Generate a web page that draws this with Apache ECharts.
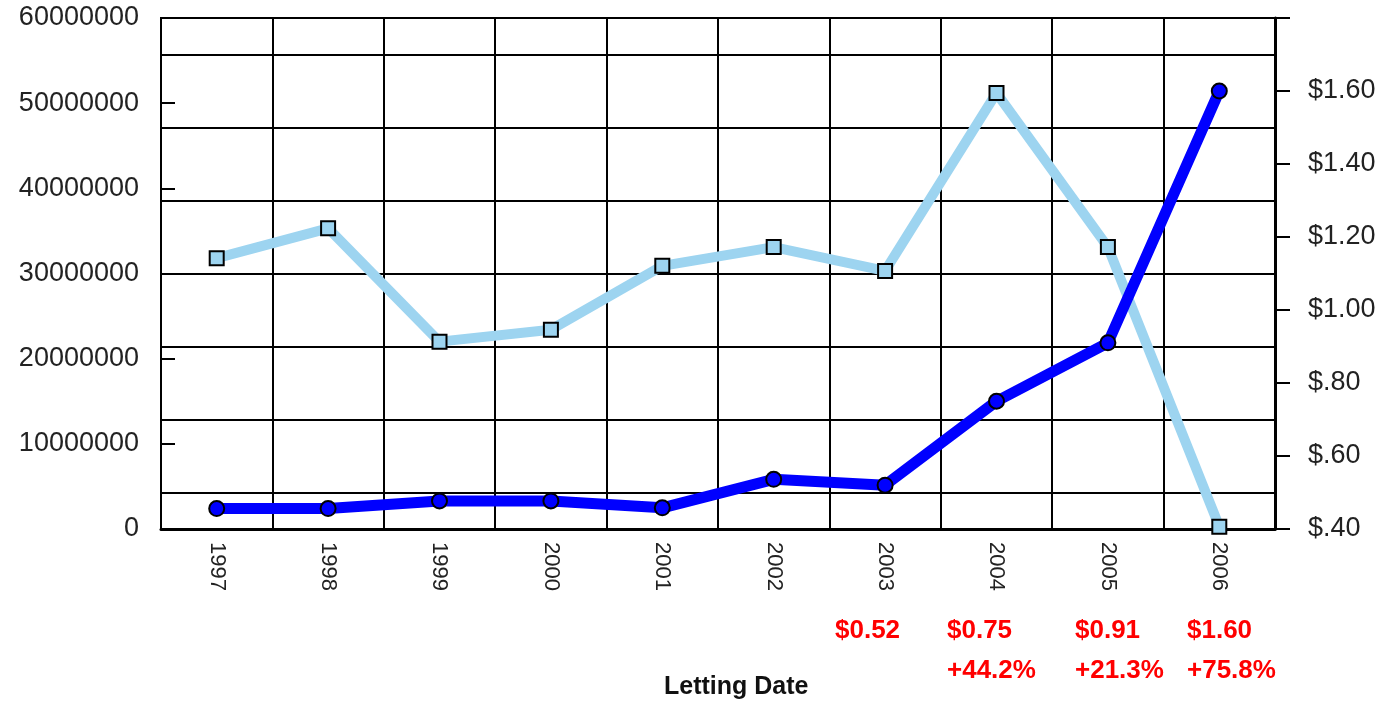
<!DOCTYPE html>
<html>
<head>
<meta charset="utf-8">
<script src="https://cdn.jsdelivr.net/npm/echarts@6/dist/echarts.min.js"></script>
<style>
html,body{margin:0;padding:0;background:#fff;}
#chart{width:1393px;height:703px;}
</style>
</head>
<body>
<div id="chart"></div>
<script>
// ---- data ----
const years = ['1997','1998','1999','2000','2001','2002','2003','2004','2005','2006'];
const volumeValues = [31800000, 35300000, 22000000, 23400000, 30900000, 33100000, 30300000, 51200000, 33100000, 270000];
const priceValues = [0.456, 0.456, 0.477, 0.477, 0.458, 0.536, 0.52, 0.75, 0.91, 1.60];
const leftTicks = { min: 0, max: 60000000, interval: 10000000 };
const rightTicks = { min: 0.4, max: 1.8, interval: 0.2 };
const gridTicks = { min: 0, max: 14, interval: 1 };
const priceNotes = ['$0.52', '$0.75', '$0.91', '$1.60'];
const changeNotes = ['', '+44.2%', '+21.3%', '+75.8%'];
const xTitle = 'Letting Date';

// ---- chart ----
const chart = echarts.init(document.getElementById('chart'), null, { renderer: 'canvas' });
const FONT = '"Liberation Sans", Arial, sans-serif';
const noteX = [835, 947, 1075, 1187];

const graphics = [];
priceNotes.forEach((t, i) => {
  graphics.push({ type: 'text', left: noteX[i], top: 618, style: { text: t, fill: '#ff0000', font: 'bold 26px ' + FONT } });
});
changeNotes.forEach((t, i) => {
  if (t) graphics.push({ type: 'text', left: noteX[i], top: 658, style: { text: t, fill: '#ff0000', font: 'bold 26px ' + FONT } });
});
graphics.push({ type: 'text', left: 664, top: 675, style: { text: xTitle, fill: '#111', font: 'bold 25px ' + FONT } });

const option = {
  animation: false,
  backgroundColor: '#ffffff',
  grid: { left: 161, right: 118, top: 18, bottom: 174, containLabel: false,
          show: true, borderColor: '#000', borderWidth: 2, backgroundColor: 'transparent' },
  xAxis: {
    type: 'category',
    data: years,
    boundaryGap: true,
    axisLine: { show: true, lineStyle: { color: '#000', width: 3 } },
    axisTick: { show: false },
    axisLabel: { rotate: -90, margin: 13, color: '#222', fontSize: 22, fontFamily: FONT },
    splitLine: { show: true, lineStyle: { color: '#000', width: 2 } }
  },
  yAxis: [
    {
      type: 'value', position: 'left',
      min: leftTicks.min, max: leftTicks.max, interval: leftTicks.interval,
      axisLine: { show: true, lineStyle: { color: '#000', width: 2 } },
      axisTick: { show: true, inside: true, length: 14, lineStyle: { color: '#000', width: 2 } },
      axisLabel: { margin: 22, color: '#222', fontSize: 27, fontFamily: FONT, formatter: v => String(Math.round(v)) },
      splitLine: { show: false }
    },
    {
      type: 'value', position: 'right',
      min: rightTicks.min, max: rightTicks.max, interval: rightTicks.interval,
      axisLine: { show: true, lineStyle: { color: '#000', width: 3 } },
      axisTick: { show: true, inside: false, length: 15, lineStyle: { color: '#000', width: 2 } },
      axisLabel: {
        margin: 33, color: '#222', fontSize: 27, fontFamily: FONT,
        formatter: v => {
          if (v > 1.7) return '';
          const s = v.toFixed(2);
          return '$' + (v < 1 ? s.slice(1) : s);
        }
      },
      splitLine: { show: false }
    },
    {
      type: 'value', position: 'right',
      min: gridTicks.min, max: gridTicks.max, interval: gridTicks.interval,
      axisLine: { show: false }, axisTick: { show: false }, axisLabel: { show: false },
      splitLine: { show: true, lineStyle: { color: ['rgba(0,0,0,0)', '#000'], width: 2 } }
    }
  ],
  series: [
    {
      type: 'line', yAxisIndex: 0, data: volumeValues,
      symbol: 'rect', symbolSize: 14,
      lineStyle: { color: '#9dd4f0', width: 10 },
      itemStyle: { color: '#9dd4f0', borderColor: '#000', borderWidth: 2 },
      z: 3
    },
    {
      type: 'line', yAxisIndex: 1, data: priceValues,
      symbol: 'circle', symbolSize: 15,
      lineStyle: { color: '#0000ff', width: 11 },
      itemStyle: { color: '#0000ff', borderColor: '#000', borderWidth: 2 },
      z: 4
    }
  ],
  graphic: graphics
};
chart.setOption(option);
</script>
</body>
</html>
